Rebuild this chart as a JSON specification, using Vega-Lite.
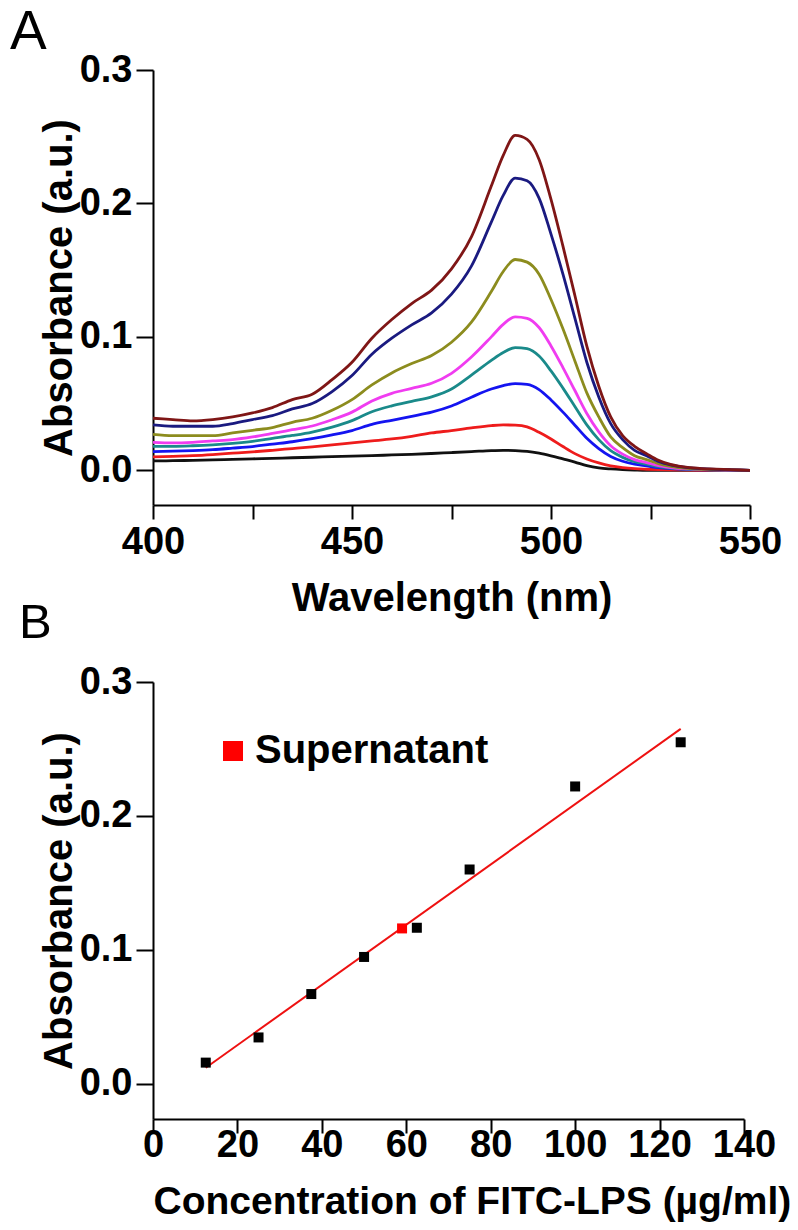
{
  "$schema": "https://vega.github.io/schema/vega-lite/v6.json",
  "background": "white",
  "padding": {"left": 10, "top": 5, "right": 5, "bottom": 5},
  "spacing": -19,
  "resolve": {"scale": {"color": "independent", "x": "independent", "y": "independent"}, "legend": {"color": "independent"}},
  "config": {
    "view": {"stroke": null},
    "font": "Liberation Sans",
    "axis": {
      "domainColor": "black", "domainWidth": 2, "tickColor": "black", "tickWidth": 2,
      "labelFont": "Liberation Sans", "labelFontWeight": "bold", "labelFontSize": 38, "labelColor": "black",
      "titleFont": "Liberation Sans", "titleFontWeight": "bold", "titleFontSize": 40, "titleColor": "black",
      "grid": false, "labelOverlap": false, "labelFlush": false, "labelBound": false
    },
    "title": {"font": "Liberation Sans", "fontWeight": "normal", "color": "black", "anchor": "start", "frame": "group"}
  },
  "datasets": {
    "spectra": [
      {"w":400,"k":0.007,"r":0.010,"b":0.014,"t":0.018,"m":0.021,"o":0.027,"n":0.034,"d":0.039},
      {"w":405,"k":0.0072,"r":0.0105,"b":0.0143,"t":0.018,"m":0.0205,"o":0.026,"n":0.033,"d":0.038},
      {"w":410,"k":0.0075,"r":0.011,"b":0.0148,"t":0.0184,"m":0.021,"o":0.026,"n":0.033,"d":0.037},
      {"w":415,"k":0.0078,"r":0.0118,"b":0.0155,"t":0.0191,"m":0.022,"o":0.026,"n":0.033,"d":0.038},
      {"w":420,"k":0.0082,"r":0.0128,"b":0.0166,"t":0.0202,"m":0.023,"o":0.028,"n":0.035,"d":0.040},
      {"w":425,"k":0.0086,"r":0.0138,"b":0.0178,"t":0.0217,"m":0.025,"o":0.030,"n":0.038,"d":0.043},
      {"w":430,"k":0.009,"r":0.015,"b":0.0196,"t":0.0239,"m":0.0276,"o":0.032,"n":0.041,"d":0.047},
      {"w":435,"k":0.0094,"r":0.0163,"b":0.0214,"t":0.0261,"m":0.0304,"o":0.036,"n":0.046,"d":0.053},
      {"w":440,"k":0.0098,"r":0.0176,"b":0.0237,"t":0.0287,"m":0.0332,"o":0.039,"n":0.050,"d":0.057},
      {"w":445,"k":0.0102,"r":0.019,"b":0.0265,"t":0.0324,"m":0.0379,"o":0.045,"n":0.059,"d":0.068},
      {"w":450,"k":0.0106,"r":0.0205,"b":0.0298,"t":0.0372,"m":0.0436,"o":0.053,"n":0.071,"d":0.081},
      {"w":455,"k":0.011,"r":0.022,"b":0.0344,"t":0.0439,"m":0.052,"o":0.064,"n":0.087,"d":0.099},
      {"w":460,"k":0.0115,"r":0.0235,"b":0.0375,"t":0.0483,"m":0.0577,"o":0.073,"n":0.099,"d":0.113},
      {"w":465,"k":0.012,"r":0.0255,"b":0.0405,"t":0.0517,"m":0.0614,"o":0.080,"n":0.109,"d":0.125},
      {"w":470,"k":0.0126,"r":0.028,"b":0.0436,"t":0.055,"m":0.0652,"o":0.086,"n":0.118,"d":0.135},
      {"w":475,"k":0.0133,"r":0.0298,"b":0.0482,"t":0.0609,"m":0.0727,"o":0.096,"n":0.132,"d":0.151},
      {"w":480,"k":0.014,"r":0.0318,"b":0.0548,"t":0.0713,"m":0.0849,"o":0.111,"n":0.153,"d":0.175},
      {"w":485,"k":0.0148,"r":0.0335,"b":0.0609,"t":0.0824,"m":0.100,"o":0.134,"n":0.186,"d":0.213},
      {"w":488,"k":0.015,"r":0.034,"b":0.0635,"t":0.0883,"m":0.1094,"o":0.149,"n":0.206,"d":0.236},
      {"w":491,"k":0.0148,"r":0.0338,"b":0.065,"t":0.092,"m":0.115,"o":0.158,"n":0.219,"d":0.251},
      {"w":494,"k":0.0142,"r":0.0325,"b":0.0644,"t":0.0911,"m":0.1139,"o":0.156,"n":0.217,"d":0.248},
      {"w":497,"k":0.0128,"r":0.0285,"b":0.0605,"t":0.0856,"m":0.107,"o":0.147,"n":0.204,"d":0.233},
      {"w":500,"k":0.0108,"r":0.0235,"b":0.0527,"t":0.0745,"m":0.0932,"o":0.128,"n":0.177,"d":0.203},
      {"w":503,"k":0.0085,"r":0.0178,"b":0.0436,"t":0.0616,"m":0.077,"o":0.106,"n":0.147,"d":0.168},
      {"w":506,"k":0.0062,"r":0.0125,"b":0.0338,"t":0.0478,"m":0.0598,"o":0.082,"n":0.114,"d":0.131},
      {"w":509,"k":0.0035,"r":0.0085,"b":0.024,"t":0.034,"m":0.0426,"o":0.058,"n":0.081,"d":0.093},
      {"w":512,"k":0.0018,"r":0.0055,"b":0.0163,"t":0.023,"m":0.0288,"o":0.040,"n":0.055,"d":0.063},
      {"w":515,"k":0.001,"r":0.0033,"b":0.0104,"t":0.0147,"m":0.0184,"o":0.025,"n":0.035,"d":0.040},
      {"w":518,"k":0.0005,"r":0.002,"b":0.0068,"t":0.0097,"m":0.0121,"o":0.017,"n":0.023,"d":0.026},
      {"w":521,"k":0.0002,"r":0.0012,"b":0.0046,"t":0.0064,"m":0.008,"o":0.011,"n":0.015,"d":0.018},
      {"w":524,"k":0,"r":0.0008,"b":0.0033,"t":0.0046,"m":0.0058,"o":0.008,"n":0.011,"d":0.0125},
      {"w":527,"k":0,"r":0.0005,"b":0.002,"t":0.0028,"m":0.0035,"o":0.005,"n":0.0066,"d":0.0075},
      {"w":530,"k":0,"r":0.0003,"b":0.0012,"t":0.0017,"m":0.002,"o":0.003,"n":0.004,"d":0.0045},
      {"w":535,"k":0,"r":0.0001,"b":0.0005,"t":0.0007,"m":0.001,"o":0.0013,"n":0.0018,"d":0.002},
      {"w":540,"k":0,"r":0,"b":0.0003,"t":0.0004,"m":0.0005,"o":0.0006,"n":0.0009,"d":0.001},
      {"w":545,"k":0,"r":0,"b":0.0001,"t":0.0002,"m":0.0002,"o":0.0003,"n":0.0004,"d":0.0005},
      {"w":550,"k":0,"r":0,"b":0,"t":0,"m":0,"o":0,"n":0,"d":0}
    ],
    "points": [
      {"c":12.5,"a":0.0158},
      {"c":25,"a":0.0346},
      {"c":37.5,"a":0.067},
      {"c":50,"a":0.0947},
      {"c":62.5,"a":0.1165},
      {"c":75,"a":0.160},
      {"c":100,"a":0.222},
      {"c":125,"a":0.255}
    ],
    "fit": [
      {"c":12.5,"a":0.012},
      {"c":125,"a":0.265}
    ],
    "sup": [
      {"c":59,"a":0.116,"type":"Supernatant"}
    ]
  },
  "vconcat": [
    {
      "title": {"text": "A", "fontSize": 55, "dx": -143, "offset": -10},
      "width": 597,
      "height": 435,
      "data": {"name": "spectra"},
      "transform": [{"fold": ["k","r","b","t","m","o","n","d"], "as": ["series","abs"]}],
      "mark": {"type": "line", "strokeWidth": 2.8, "interpolate": "monotone"},
      "encoding": {
        "x": {"field": "w", "type": "quantitative",
          "scale": {"domain": [400, 550], "nice": false, "zero": false},
          "axis": {"values": [400,425,450,475,500,525,550], "labelExpr": "datum.value % 50 === 0 ? datum.label : ''",
            "tickSize": 14, "labelPadding": 4, "title": "Wavelength (nm)", "titlePadding": 17}},
        "y": {"field": "abs", "type": "quantitative",
          "scale": {"domain": [-0.026, 0.3], "nice": false, "zero": false},
          "axis": {"values": [0, 0.1, 0.2, 0.3], "format": ".1f", "tickSize": 17, "labelPadding": 4,
            "title": "Absorbance (a.u.)", "titlePadding": 0}},
        "color": {"field": "series", "type": "nominal",
          "scale": {"domain": ["k","r","b","t","m","o","n","d"],
            "range": ["#111111","#ee1c1c","#1414f0","#1a8a8a","#f03cf0","#8c8c1e","#1a1a80","#7f1616"]},
          "legend": null}
      }
    },
    {
      "title": {"text": "B", "fontSize": 49, "dx": -134, "offset": 15},
      "width": 591,
      "height": 437,
      "layer": [
        {
          "data": {"name": "fit"},
          "mark": {"type": "line", "color": "#ee1111", "strokeWidth": 2},
          "encoding": {
            "x": {"field": "c", "type": "quantitative",
              "scale": {"domain": [0, 140], "nice": false},
              "axis": {"values": [0,20,40,60,80,100,120,140], "tickSize": 14, "labelPadding": -7,
                "title": "Concentration of FITC-LPS (µg/ml)", "titleFontSize": 39, "titleAnchor": "start", "titlePadding": 18}},
            "y": {"field": "a", "type": "quantitative",
              "scale": {"domain": [-0.0263, 0.3], "nice": false, "zero": false},
              "axis": {"values": [0, 0.1, 0.2, 0.3], "format": ".1f", "tickSize": 17, "labelPadding": 4,
                "title": "Absorbance (a.u.)", "titlePadding": 0}}
          }
        },
        {
          "data": {"name": "points"},
          "mark": {"type": "square", "size": 100, "color": "black", "opacity": 1},
          "encoding": {
            "x": {"field": "c", "type": "quantitative"},
            "y": {"field": "a", "type": "quantitative"}
          }
        },
        {
          "data": {"name": "sup"},
          "mark": {"type": "square", "size": 100, "opacity": 1},
          "encoding": {
            "x": {"field": "c", "type": "quantitative"},
            "y": {"field": "a", "type": "quantitative"},
            "color": {"field": "type", "type": "nominal",
              "scale": {"domain": ["Supernatant"], "range": ["#ff0000"]},
              "legend": {"orient": "none", "legendX": 60, "legendY": 49, "title": null,
                "symbolType": "square", "symbolSize": 400, "symbolStrokeWidth": 0, "symbolOpacity": 1,
                "labelFont": "Liberation Sans", "labelFontSize": 40, "labelFontWeight": "bold",
                "labelColor": "black", "labelOffset": 2, "labelLimit": 500}}
          }
        }
      ]
    }
  ]
}
